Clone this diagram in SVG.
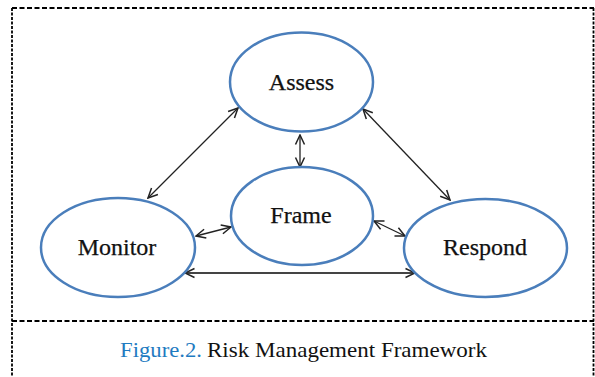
<svg xmlns="http://www.w3.org/2000/svg" width="595" height="377" viewBox="0 0 595 377">
  <style>
    .node ellipse { fill: #ffffff; stroke: #4a7ebb; stroke-width: 2.5; }
    .node text { font-family: "Liberation Serif", "Times New Roman", serif; font-size: 24px; fill: #111111; text-anchor: middle; stroke: #111111; stroke-width: 0.25; }
    .conn line { stroke: #222222; stroke-width: 1.3; fill: none; marker-start: url(#head); marker-end: url(#head); }
    .conn line.flat { stroke: #444444; stroke-width: 1.8; }
    .frame-h { stroke: #000000; stroke-width: 1.8; stroke-dasharray: 5 2.5; fill: none; }
    .frame-v { stroke: #000000; stroke-width: 1.8; stroke-dasharray: 3 1.5; fill: none; }
    .caption { font-family: "Liberation Serif", "Times New Roman", serif; font-size: 21px; }
  </style>
  <defs>
    <marker id="head" viewBox="0 0 12 12" refX="11" refY="6" markerWidth="12" markerHeight="12" markerUnits="userSpaceOnUse" orient="auto-start-reverse">
      <path d="M1.5,1.5 L11,6 L1.5,10.5" fill="none" stroke="#222222" stroke-width="1.5" stroke-linejoin="miter"/>
    </marker>
  </defs>

  <rect width="595" height="377" fill="#ffffff"/>

  <!-- dashed outer border and caption separator -->
  <g id="border">
    <line class="frame-h" x1="12" y1="8" x2="594" y2="8"/>
    <line class="frame-v" x1="12" y1="8" x2="12" y2="377"/>
    <line class="frame-v" x1="593.5" y1="8" x2="593.5" y2="377"/>
    <line class="frame-h" x1="12" y1="321" x2="594" y2="321"/>
  </g>

  <!-- connectors -->
  <g id="connectors" class="conn">
    <line x1="148" y1="198" x2="238" y2="108"/>
    <line x1="363" y1="109" x2="450" y2="200"/>
    <line x1="300" y1="135" x2="300" y2="167"/>
    <line x1="196" y1="236" x2="231" y2="227"/>
    <line x1="374" y1="221" x2="405" y2="236"/>
    <line class="flat" x1="185" y1="273" x2="415" y2="273"/>
  </g>

  <!-- nodes -->
  <g id="assess" class="node">
    <ellipse cx="301.5" cy="82" rx="71.5" ry="49.5"/>
    <text x="301.5" y="90">Assess</text>
  </g>
  <g id="frame" class="node">
    <ellipse cx="302" cy="216" rx="71" ry="49"/>
    <text x="301" y="223">Frame</text>
  </g>
  <g id="monitor" class="node">
    <ellipse cx="118" cy="247.5" rx="77" ry="49.5"/>
    <text x="117" y="255">Monitor</text>
  </g>
  <g id="respond" class="node">
    <ellipse cx="485.5" cy="248" rx="81.5" ry="49"/>
    <text x="485" y="255">Respond</text>
  </g>

  <!-- caption -->
  <g id="caption" class="caption">
    <text x="120" y="357" fill="#1f7bc1" textLength="82" lengthAdjust="spacingAndGlyphs">Figure.2.</text>
    <text x="207" y="357" fill="#111111" textLength="280" lengthAdjust="spacingAndGlyphs">Risk Management Framework</text>
  </g>
</svg>
